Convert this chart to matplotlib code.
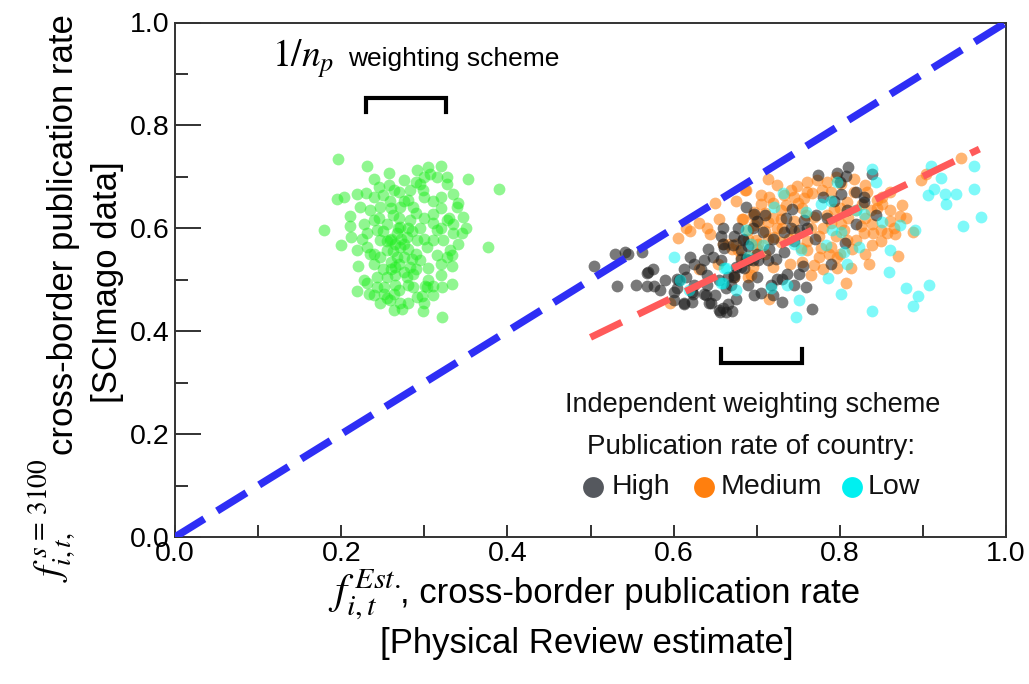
import matplotlib
matplotlib.use("Agg")
import matplotlib.pyplot as plt
from matplotlib.lines import Line2D
import numpy as np

plt.rcParams['font.family'] = ['Liberation Sans', 'DejaVu Sans']
plt.rcParams['mathtext.fontset'] = 'stix'

# ---------------- data ----------------
green_pts = [
(0.196,0.735),(0.231,0.721),(0.258,0.707),(0.239,0.696),(0.305,0.719),(0.320,0.722),(0.291,0.714),(0.352,0.696),
(0.390,0.676),(0.195,0.656),(0.203,0.660),(0.179,0.597),(0.200,0.567),(0.212,0.583),(0.210,0.604),(0.210,0.623),
(0.219,0.667),(0.230,0.669),(0.377,0.563),(0.220,0.526),(0.219,0.478),(0.233,0.472),(0.247,0.455),(0.263,0.441),
(0.273,0.444),(0.299,0.439),(0.321,0.428),(0.333,0.491),(0.321,0.486),(0.311,0.488),(0.301,0.488),(0.333,0.526),
(0.333,0.548),(0.315,0.548),(0.305,0.522),(0.297,0.468),(0.287,0.486),(0.267,0.590),(0.271,0.564),(0.267,0.544),
(0.265,0.525),(0.255,0.505),(0.251,0.486),(0.263,0.473),(0.243,0.505),(0.231,0.493),(0.247,0.544),(0.231,0.564),
(0.219,0.557),(0.231,0.590),(0.247,0.577),(0.255,0.609),(0.247,0.641),(0.259,0.654),(0.263,0.674),(0.275,0.693),
(0.283,0.674),(0.295,0.687),(0.299,0.674),(0.311,0.654),(0.315,0.700),(0.327,0.687),(0.335,0.667),(0.339,0.641),
(0.347,0.622),(0.335,0.609),(0.327,0.616),(0.345,0.590),(0.335,0.590),(0.323,0.577),(0.303,0.564),(0.291,0.577),
(0.283,0.616),(0.287,0.641),(0.271,0.641),(0.275,0.654),(0.311,0.628),(0.315,0.596),(0.311,0.577),(0.295,0.538),
(0.283,0.525),(0.279,0.505),(0.287,0.512),(0.235,0.635),(0.223,0.641),(0.227,0.609),(0.239,0.616),(0.243,0.596),
(0.255,0.557),(0.259,0.577),(0.271,0.603),(0.279,0.583),(0.259,0.460),(0.271,0.454),(0.251,0.473),(0.243,0.486),
(0.227,0.499),(0.291,0.467),(0.303,0.486),(0.327,0.544),(0.331,0.557),(0.307,0.706),(0.327,0.700),
(0.268,0.600),(0.272,0.580),(0.265,0.570),(0.262,0.555),(0.275,0.570),(0.270,0.530),(0.260,0.535),(0.275,0.545),
(0.280,0.560),(0.285,0.595),(0.290,0.630),(0.300,0.660),(0.280,0.655),(0.262,0.625),(0.250,0.595),(0.265,0.510),
(0.280,0.490),(0.270,0.480),(0.255,0.465),(0.240,0.530),(0.295,0.600),(0.300,0.620),(0.320,0.640),(0.320,0.660),
(0.250,0.665),(0.240,0.660),(0.305,0.500),(0.290,0.520),(0.320,0.510),(0.257,0.685),(0.245,0.680),
(0.260,0.580),(0.270,0.620),(0.280,0.600),(0.260,0.520),(0.250,0.520),(0.275,0.515),(0.285,0.540),(0.265,0.490),
(0.240,0.550),(0.255,0.575),(0.290,0.550),(0.300,0.580),(0.310,0.610),(0.320,0.600),(0.330,0.620),(0.340,0.650),
(0.300,0.700),(0.290,0.690),(0.270,0.670),(0.260,0.640),(0.245,0.620),(0.235,0.550),(0.225,0.580),(0.240,0.470),
(0.280,0.455),(0.300,0.455),(0.310,0.470),(0.320,0.530),(0.340,0.570),(0.350,0.600),
]
high_pts = [
(0.504,0.526),(0.532,0.488),(0.542,0.554),(0.562,0.554),(0.568,0.514),(0.568,0.487),(0.577,0.487),(0.584,0.480),
(0.612,0.520),(0.604,0.502),(0.600,0.476),(0.612,0.452),(0.622,0.457),(0.622,0.476),(0.633,0.520),(0.641,0.559),
(0.637,0.472),(0.645,0.454),(0.656,0.438),(0.665,0.452),(0.657,0.538),(0.657,0.586),(0.659,0.570),(0.673,0.586),
(0.665,0.505),(0.673,0.505),(0.669,0.489),(0.675,0.463),(0.681,0.557),(0.689,0.538),(0.810,0.719),(0.797,0.707),
(0.807,0.701),(0.774,0.704),(0.839,0.706),(0.801,0.667),(0.793,0.654),(0.742,0.637),(0.687,0.641),(0.829,0.661),
(0.829,0.651),(0.809,0.635),(0.843,0.625),(0.819,0.609),(0.771,0.625),(0.757,0.616),(0.751,0.596),(0.741,0.601),
(0.733,0.593),(0.707,0.593),(0.684,0.580),(0.733,0.554),(0.723,0.541),(0.713,0.539),(0.701,0.538),(0.685,0.522),
(0.756,0.526),(0.751,0.511),(0.737,0.511),(0.731,0.502),(0.725,0.502),(0.717,0.489),(0.759,0.486),(0.789,0.531),
(0.806,0.571),(0.697,0.470),(0.730,0.457),(0.766,0.444),(0.681,0.541),
(0.530,0.550),(0.545,0.550),(0.590,0.500),(0.615,0.505),(0.625,0.530),(0.640,0.490),(0.650,0.470),(0.660,0.445),
(0.670,0.440),(0.695,0.600),(0.700,0.615),(0.690,0.565),(0.720,0.580),(0.745,0.575),(0.760,0.600),(0.700,0.505),
(0.660,0.600),(0.648,0.545),(0.780,0.660),(0.700,0.550),(0.715,0.560),(0.677,0.600),
(0.569,0.515),(0.636,0.538),(0.661,0.561),(0.671,0.567),(0.606,0.499),(0.604,0.483),(0.623,0.473),(0.613,0.454),
(0.639,0.470),(0.643,0.454),(0.655,0.441),(0.663,0.437),(0.663,0.483),(0.673,0.509),(0.681,0.525),(0.697,0.628),
(0.683,0.577),(0.687,0.541),(0.695,0.538),
(0.600,0.460),(0.625,0.490),(0.640,0.510),(0.655,0.500),(0.620,0.545),(0.675,0.525),(0.690,0.490),(0.705,0.475),
(0.720,0.470),(0.745,0.490),(0.770,0.580),(0.785,0.620),(0.800,0.690),(0.820,0.670),(0.735,0.620),(0.710,0.625),
(0.575,0.520),(0.555,0.490),
]
medium_pts = [
(0.650,0.649),(0.675,0.653),(0.655,0.619),(0.682,0.619),(0.615,0.601),(0.605,0.582),(0.644,0.588),(0.686,0.675),
(0.596,0.454),(0.675,0.570),(0.681,0.544),(0.653,0.531),(0.714,0.695),(0.749,0.682),(0.741,0.674),(0.733,0.664),
(0.745,0.661),(0.757,0.658),(0.715,0.661),(0.767,0.669),(0.779,0.674),(0.785,0.690),(0.773,0.693),(0.801,0.687),
(0.817,0.696),(0.817,0.670),(0.833,0.670),(0.809,0.651),(0.827,0.648),(0.851,0.661),(0.851,0.648),(0.837,0.635),
(0.793,0.638),(0.785,0.625),(0.769,0.622),(0.759,0.625),(0.729,0.635),(0.705,0.648),(0.697,0.632),(0.683,0.619),
(0.701,0.612),(0.713,0.612),(0.729,0.619),(0.689,0.596),(0.699,0.577),(0.713,0.580),(0.721,0.583),(0.729,0.573),
(0.739,0.580),(0.753,0.561),(0.761,0.557),(0.777,0.561),(0.789,0.564),(0.787,0.551),(0.797,0.544),(0.769,0.528),
(0.797,0.522),(0.813,0.522),(0.809,0.577),(0.819,0.578),(0.829,0.590),(0.839,0.567),(0.849,0.596),(0.857,0.591),
(0.867,0.588),(0.873,0.623),(0.860,0.614),(0.870,0.546),(0.839,0.609),(0.801,0.608),(0.805,0.596),(0.775,0.586),
(0.888,0.593),(0.693,0.509),(0.691,0.544),(0.715,0.463),(0.808,0.493),(0.904,0.706),(0.946,0.737),(0.898,0.693),
(0.687,0.674),
(0.660,0.570),(0.670,0.560),(0.690,0.580),(0.700,0.560),(0.695,0.525),(0.710,0.630),(0.720,0.650),(0.730,0.600),
(0.745,0.615),(0.755,0.640),(0.765,0.600),(0.780,0.600),(0.795,0.585),(0.820,0.635),(0.830,0.620),(0.845,0.655),
(0.860,0.635),(0.880,0.620),(0.630,0.610),(0.640,0.600),(0.620,0.595),(0.860,0.670),(0.875,0.645),(0.830,0.550),
(0.765,0.510),(0.740,0.530),(0.630,0.520),
(0.673,0.505),(0.689,0.505),(0.697,0.606),(0.695,0.625),(0.665,0.570),(0.677,0.557),(0.701,0.570),
(0.720,0.620),(0.735,0.645),(0.750,0.650),(0.760,0.670),(0.790,0.670),(0.800,0.640),(0.810,0.620),(0.825,0.605),
(0.840,0.590),(0.850,0.575),(0.815,0.560),(0.800,0.550),(0.775,0.545),(0.760,0.575),(0.745,0.595),(0.725,0.600),
(0.710,0.595),(0.705,0.665),(0.725,0.685),(0.760,0.690),(0.795,0.700),(0.830,0.685),(0.845,0.640),(0.865,0.600),
(0.835,0.530),(0.780,0.520),(0.755,0.535),(0.710,0.550),(0.720,0.525),(0.790,0.610),
]
low_pts = [
(0.839,0.716),(0.843,0.690),(0.732,0.669),(0.797,0.690),(0.910,0.722),(0.961,0.722),(0.922,0.697),(0.913,0.677),
(0.906,0.664),(0.926,0.667),(0.940,0.667),(0.928,0.648),(0.961,0.676),(0.970,0.622),(0.948,0.604),(0.890,0.596),
(0.777,0.648),(0.789,0.654),(0.721,0.641),(0.759,0.632),(0.791,0.596),(0.801,0.593),(0.819,0.635),(0.829,0.628),
(0.851,0.612),(0.873,0.606),(0.687,0.596),(0.707,0.567),(0.745,0.570),(0.753,0.557),(0.783,0.567),(0.805,0.554),
(0.823,0.564),(0.809,0.531),(0.861,0.557),(0.859,0.515),(0.786,0.503),(0.717,0.483),(0.751,0.461),(0.747,0.428),
(0.801,0.473),(0.839,0.439),(0.880,0.483),(0.894,0.469),(0.907,0.489),(0.888,0.449),(0.737,0.489),(0.600,0.544),
(0.608,0.499),(0.618,0.480),(0.659,0.493),(0.675,0.480),(0.663,0.522),(0.689,0.544),
(0.661,0.522),(0.657,0.493),(0.693,0.570),
]

diag_x = [0.0, 1.0]
diag_y = [0.0, 1.0]
fit_x = [0.50, 0.968]
fit_y = [0.388, 0.754]

bracket_np_x = [0.230, 0.230, 0.3265, 0.3265]
bracket_np_y = [0.826, 0.854, 0.854, 0.826]
bracket_ind_x = [0.657, 0.657, 0.755, 0.755]
bracket_ind_y = [0.366, 0.3385, 0.3385, 0.366]

legend_labels = ["High", "Medium", "Low"]
legend_colors = ["#55585e", "#ff7f0e", "#00f0f0"]

major_ticks = [0.0, 0.2, 0.4, 0.6, 0.8, 1.0]
minor_ticks = [0.1, 0.3, 0.5, 0.7, 0.9]

# ---------------- figure ----------------
W, H = 1029, 684
fig = plt.figure(figsize=(W / 100, H / 100), dpi=100)
ax = fig.add_axes([175 / W, 1 - 537 / H, 831 / W, 514.5 / H])

def px(x, y):
    return x / W, 1 - y / H

def xy(pts):
    a = np.array(pts)
    return a[:, 0], a[:, 1]

gx, gy = xy(green_pts)
ax.scatter(gx, gy, s=72, color="#22ee22", alpha=0.5, linewidths=0, zorder=3)

mx, my = xy(medium_pts)
ax.scatter(mx, my, s=72, color="#ff8010", alpha=0.58, linewidths=0, zorder=3)
hx, hy = xy(high_pts)
ax.scatter(hx, hy, s=72, color="#202020", alpha=0.6, linewidths=0, zorder=3)
lx, ly = xy(low_pts)
ax.scatter(lx, ly, s=72, color="#00f4f4", alpha=0.5, linewidths=0, zorder=3)

ax.plot(diag_x, diag_y, color="#2e2ef5", lw=5.4, dashes=(4.6, 2.0), zorder=4,
        dash_capstyle='butt')
ax.plot(fit_x, fit_y, color="#ff5a5a", lw=5.0, dashes=(5.0, 2.6), zorder=4,
        dash_capstyle='butt')

ax.plot(bracket_np_x, bracket_np_y, color="black", lw=3.0, zorder=5, solid_joinstyle='miter')
ax.plot(bracket_ind_x, bracket_ind_y, color="black", lw=3.0, zorder=5, solid_joinstyle='miter')

ax.set_xlim(0, 1)
ax.set_ylim(0, 1)
ax.set_xticks(major_ticks)
ax.set_yticks(major_ticks)
ax.set_xticks(minor_ticks, minor=True)
ax.set_yticks(minor_ticks, minor=True)
ax.set_xticklabels([f"{t:.1f}" for t in major_ticks])
ax.set_yticklabels([f"{t:.1f}" for t in major_ticks])
ax.tick_params(axis='both', which='both', direction='in', width=1.3, color="#222222",
               labelsize=20.5, top=False, right=False)
ax.tick_params(axis='y', which='major', length=19, pad=4)
ax.tick_params(axis='y', which='minor', length=9)
ax.tick_params(axis='x', which='both', length=9, pad=3)
for sp in ax.spines.values():
    sp.set_linewidth(1.4)
    sp.set_color("#333333")

# annotations
fig.text(*px(272, 67), r"$1/n_p$", fontsize=27, ha='left', va='baseline')
fig.text(*px(348, 66), "weighting scheme", fontsize=19, ha='left', va='baseline')

fig.text(*px(753, 405), "Independent weighting scheme", fontsize=19.5, ha='center', va='center', color="#111111")
fig.text(*px(751, 447), "Publication rate of country:", fontsize=20, ha='center', va='center', color="#111111")

leg_marker_x = [593, 704, 852]
leg_text_x = [612, 721, 868]
for lab, col, mxp, txp in zip(legend_labels, legend_colors, leg_marker_x, leg_text_x):
    fig.lines.append(Line2D([mxp / W], [1 - 487 / H], marker='o', markersize=15,
                            color=col, markeredgewidth=0, transform=fig.transFigure))
    fig.text(*px(txp, 487), lab, fontsize=20.5, ha='left', va='center', color="#111111")

# x axis label
fig.text(*px(328, 603), r"$f_{i,t}^{\,Est.}$", fontsize=31, ha='left', va='baseline')
fig.text(*px(400, 603), ", cross-border publication rate", fontsize=25, ha='left', va='baseline')
fig.text(*px(587, 644), "[Physical Review estimate]", fontsize=25, ha='center', va='center')

# y axis label
fig.text(*px(78, 458), r"$f_{i,t,}^{\,s\,=\,3100}$", fontsize=28, ha='right', va='top', rotation=90)
fig.text(*px(64, 455), "cross-border publication rate", fontsize=25, ha='center', va='bottom', rotation=90)
fig.text(*px(108, 282), "[SCImago data]", fontsize=25, ha='center', va='center', rotation=90)

fig.savefig("out.png", dpi=100)
